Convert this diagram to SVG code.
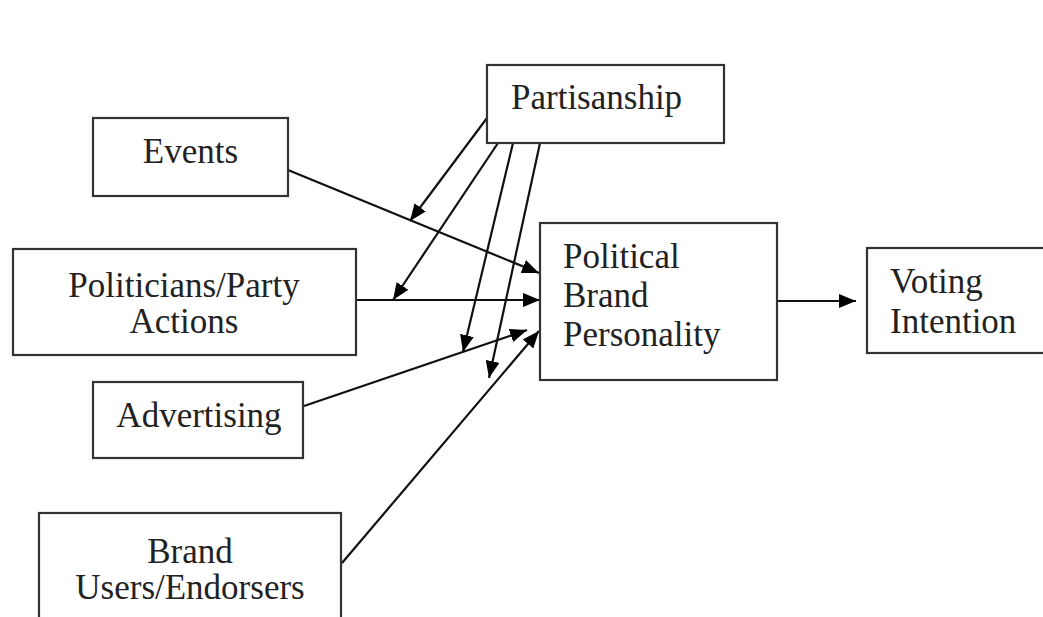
<svg xmlns="http://www.w3.org/2000/svg" width="1043" height="617" viewBox="0 0 1043 617">
<style>
.box{fill:#fff;stroke:#333;stroke-width:2.2}
.t{font-family:'Liberation Serif','DejaVu Serif',serif;font-size:35px;fill:#222}
.c{text-anchor:middle}
.ln{stroke:#111;stroke-width:2.2;fill:none;marker-end:url(#ah)}
</style>
<defs>
<marker id="ah" markerUnits="userSpaceOnUse" markerWidth="18" markerHeight="14" refX="17" refY="7" orient="auto">
<path d="M0,0 L17,7 L0,14 Z" fill="#000"/>
</marker>
</defs>
<rect width="1043" height="617" fill="#fff"/>
<g id="connectors">
<line class="ln" x1="487" y1="118" x2="410" y2="221"/>
<line class="ln" x1="498" y1="143" x2="393" y2="300"/>
<line class="ln" x1="513" y1="143" x2="463" y2="352"/>
<line class="ln" x1="540" y1="143" x2="489" y2="378"/>
<line class="ln" x1="288" y1="170" x2="539" y2="273"/>
<line class="ln" x1="356" y1="300" x2="540" y2="300"/>
<line class="ln" x1="304" y1="406" x2="527" y2="330"/>
<line class="ln" x1="342" y1="563" x2="539" y2="331"/>
<line class="ln" x1="777" y1="301" x2="856" y2="301"/>
</g>
<g id="partisanship">
<rect class="box" x="487" y="65" width="237" height="78"/>
<text class="t" x="511" y="109">Partisanship</text>
</g>
<g id="events">
<rect class="box" x="93" y="118" width="195" height="78"/>
<text class="t c" x="190.5" y="163">Events</text>
</g>
<g id="politicians">
<rect class="box" x="13" y="249" width="343" height="106"/>
<text class="t c" x="184" y="297">Politicians/Party</text>
<text class="t c" x="184" y="333">Actions</text>
</g>
<g id="advertising">
<rect class="box" x="93" y="382" width="210" height="76"/>
<text class="t c" x="199" y="427">Advertising</text>
</g>
<g id="brand-users">
<rect class="box" x="39" y="513" width="302" height="120"/>
<text class="t c" x="190" y="563">Brand</text>
<text class="t c" x="190" y="599">Users/Endorsers</text>
</g>
<g id="pbp">
<rect class="box" x="540" y="223" width="237" height="157"/>
<text class="t" x="563" y="268">Political</text>
<text class="t" x="563" y="307">Brand</text>
<text class="t" x="563" y="346">Personality</text>
</g>
<g id="voting">
<rect class="box" x="867" y="248" width="190" height="105"/>
<text class="t" x="890" y="293">Voting</text>
<text class="t" x="890" y="333">Intention</text>
</g>
</svg>
